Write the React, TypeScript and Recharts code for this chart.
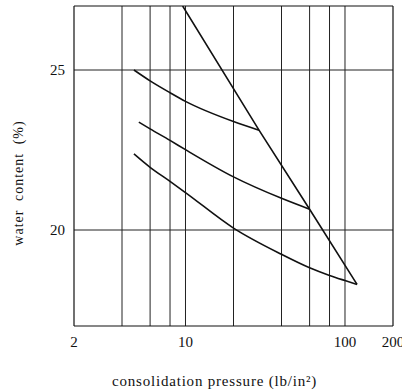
import React from "react";
import {
  LineChart,
  Line,
  XAxis,
  YAxis,
  ReferenceLine,
} from "recharts";

// consolidation pressure (lb/in2) vs water content (%)
const steepX = [9.6, 28.9, 60, 119];
const steepY = [27, 23.12, 20.65, 18.3];

const upperX = [4.75, 6, 8, 10, 20, 28.9];
const upperY = [25, 24.66, 24.29, 24.02, 23.39, 23.12];

const middleX = [5.1, 6, 8, 10, 20, 40, 60];
const middleY = [23.37, 23.16, 22.8, 22.51, 21.66, 20.99, 20.65];

const lowerX = [4.75, 6, 8, 10, 20, 40, 60, 80, 100, 119];
const lowerY = [22.38, 21.96, 21.52, 21.17, 20.06, 19.24, 18.82, 18.58, 18.42, 18.3];

const xTicks = [2, 10, 100, 200];
const yTicks = [20, 25];
const xGrid = [4, 6, 8, 10, 20, 40, 60, 80, 100];
const yGrid = [20, 25];

const toPoints = (xs: number[], ys: number[]) =>
  xs.map((x, i) => ({ x, y: ys[i] }));

const curves = [
  { key: "steep", data: toPoints(steepX, steepY), type: "linear" },
  { key: "upper", data: toPoints(upperX, upperY), type: "monotone" },
  { key: "middle", data: toPoints(middleX, middleY), type: "monotone" },
  { key: "lower", data: toPoints(lowerX, lowerY), type: "monotone" },
];

const FONT = "'Liberation Serif', 'DejaVu Serif', serif";
const INK = "#111";

const App = () => {
  return (
    <div style={{ position: "absolute", left: 0, top: 0, width: 402, height: 392, background: "#fff" }}>
      <LineChart
        width={402}
        height={392}
        margin={{ top: 6, right: 9, left: 14, bottom: 36 }}
      >
        <XAxis
          dataKey="x"
          type="number"
          scale="log"
          domain={[2, 200]}
          ticks={xTicks}
          interval={0}
          allowDataOverflow
          height={30}
          axisLine={{ stroke: INK, strokeWidth: 1.2 }}
          tickLine={false}
          tickSize={6}
          tickMargin={4}
          tick={{ fill: INK, fontSize: 15, fontFamily: FONT }}
          label={() => (
            <text
              x={112}
              y={386}
              fill={INK}
              fontSize={15}
              fontFamily={FONT}
              letterSpacing={0.8}
            >
              consolidation pressure (lb/in²)
            </text>
          )}
        />
        <YAxis
          type="number"
          domain={[17, 27]}
          ticks={yTicks}
          interval={0}
          allowDataOverflow
          width={60}
          axisLine={{ stroke: INK, strokeWidth: 1.2 }}
          tickLine={false}
          tickSize={6}
          tickMargin={3}
          tick={{ fill: INK, fontSize: 15, fontFamily: FONT }}
          label={() => (
            <text
              x={18.5}
              y={183}
              transform="rotate(-90, 18.5, 183)"
              textAnchor="middle"
              dominantBaseline="central"
              fill={INK}
              fontSize={14}
              fontFamily={FONT}
              letterSpacing={1}
              wordSpacing={4}
            >
              water content (%)
            </text>
          )}
        />

        {xGrid.map((v) => (
          <ReferenceLine key={"vx" + v} x={v} stroke="#222" strokeWidth={1} />
        ))}
        {yGrid.map((v) => (
          <ReferenceLine key={"hy" + v} y={v} stroke="#222" strokeWidth={1} />
        ))}
        {/* frame top and right */}
        <ReferenceLine x={200} stroke={INK} strokeWidth={1.2} />
        <ReferenceLine y={27} stroke={INK} strokeWidth={1.2} />

        {curves.map((c) => (
          <Line
            key={c.key}
            data={c.data}
            dataKey="y"
            type={c.type as any}
            stroke={INK}
            strokeWidth={1.6}
            dot={false}
            activeDot={false}
            isAnimationActive={false}
          />
        ))}
      </LineChart>
    </div>
  );
};

export default App;
